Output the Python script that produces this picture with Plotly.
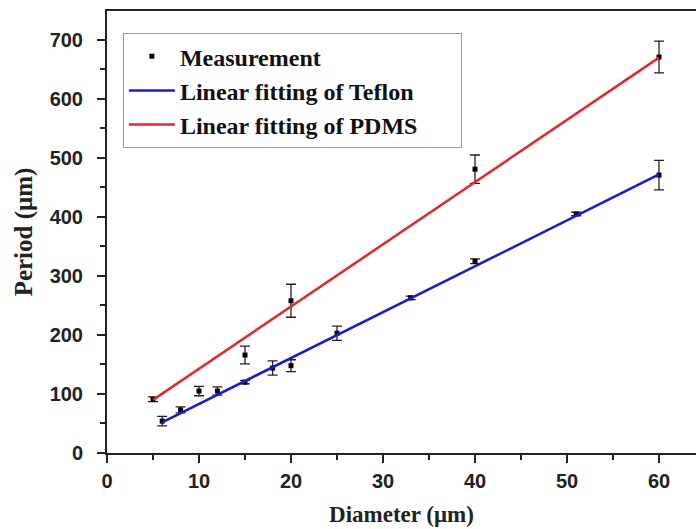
import plotly.graph_objects as go

# Measurement data (Diameter in µm, Period in µm, error)
meas_x = [5, 6, 8, 10, 12, 15, 15, 18, 20, 20, 25, 33, 40, 40, 51, 60, 60]
meas_y = [91, 54, 73, 105, 105, 120, 166, 144, 148, 258, 203, 263, 325, 481, 405, 471, 671]
meas_err = [4, 8, 5, 8, 7, 3, 15, 12, 10, 28, 12, 3, 4, 24, 3, 25, 27]

# Linear fits (endpoints)
teflon_x = [6, 60]
teflon_y = [52, 472]
pdms_x = [5, 60]
pdms_y = [90, 670]

x_ticks = [0, 10, 20, 30, 40, 50, 60]
y_ticks = [0, 100, 200, 300, 400, 500, 600, 700]

pad = "\u00a0" * 7

fig = go.Figure()
fig.add_trace(go.Scatter(
    x=meas_x, y=meas_y, mode="markers", name="Measurement",
    marker=dict(symbol="square", size=5, color="black"),
    error_y=dict(type="data", array=meas_err, visible=True, color="#222",
                 thickness=1.3, width=5),
))
fig.add_trace(go.Scatter(
    x=teflon_x, y=teflon_y, mode="lines", name="Linear fitting of Teflon" + pad,
    line=dict(color="#1a1adc", width=2.5),
))
fig.add_trace(go.Scatter(
    x=pdms_x, y=pdms_y, mode="lines", name="Linear fitting of PDMS",
    line=dict(color="#e8262a", width=2.5),
))

tick_font = dict(family="Liberation Sans", size=20, color="#222", weight="bold")
xtitle_font = dict(family="Liberation Serif", size=23, color="#222", weight="bold")
ytitle_font = dict(family="Liberation Serif", size=25, color="#222", weight="bold")

fig.update_layout(
    width=696, height=529,
    margin=dict(l=107, r=0, t=11, b=76),
    paper_bgcolor="white", plot_bgcolor="white",
    showlegend=True,
    legend=dict(
        x=0.027, y=0.95, xanchor="left", yanchor="top",
        bgcolor="white", bordercolor="#999", borderwidth=1,
        font=dict(family="Liberation Serif", size=24, color="#111", weight="bold"),
        tracegroupgap=0, itemwidth=46,
    ),
    xaxis=dict(
        range=[0, 64.02], tickvals=x_ticks, ticktext=[str(v) for v in x_ticks],
        showgrid=False, zeroline=False,
        showline=True, linecolor="#222", linewidth=2, mirror=True,
        ticks="outside", ticklen=8, tickwidth=2, tickcolor="#222",
        minor=dict(ticks="outside", ticklen=5, tickwidth=2, tickcolor="#222", dtick=5, tick0=0),
        tickfont=tick_font, ticklabelstandoff=1,
        title=dict(text="Diameter (μm)", font=xtitle_font, standoff=15),
    ),
    yaxis=dict(
        range=[0, 749], tickvals=y_ticks, ticktext=[str(v) for v in y_ticks],
        showgrid=False, zeroline=False,
        showline=True, linecolor="#222", linewidth=2, mirror=False,
        ticks="outside", ticklen=8, tickwidth=2, tickcolor="#222",
        minor=dict(ticks="outside", ticklen=5, tickwidth=2, tickcolor="#222", dtick=50, tick0=0),
        tickfont=tick_font, ticklabelstandoff=10,
        title=dict(text="Period (μm)", font=ytitle_font, standoff=10),
    ),
)

fig.write_html("out.html")
